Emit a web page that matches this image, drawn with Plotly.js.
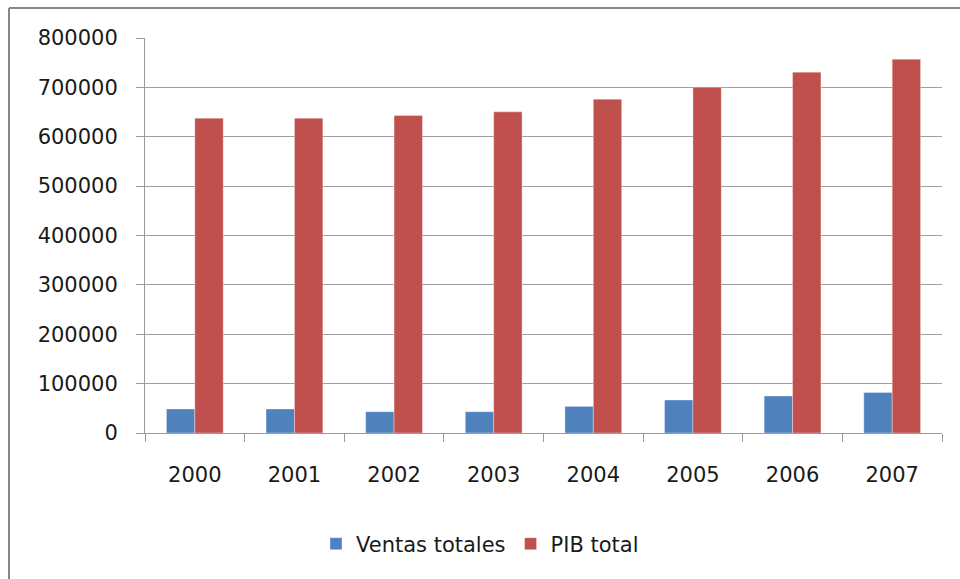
<!DOCTYPE html>
<html>
<head>
<meta charset="utf-8">
<script src="https://cdn.plot.ly/plotly-3.0.1.min.js"></script>
<style>html,body{margin:0;padding:0;background:#fff;}#chart{width:960px;height:579px;}</style>
</head>
<body>
<div id="chart"></div>
<script>
const years = ["2000","2001","2002","2003","2004","2005","2006","2007"];
const ventasTotales = [48600, 48600, 43100, 43100, 53900, 66800, 74900, 82200];
const pibTotal = [637700, 637700, 642900, 650400, 676100, 700400, 730800, 757100];
const yTicks = [0,100000,200000,300000,400000,500000,600000,700000,800000];

const W = 960, H = 579;
const L = 145, R = 942, T = 38, B = 433;
const px = x => (x - L) / (R - L);
const py = y => (B - y) / (B - T);

const font = "DejaVu Sans, sans-serif";
const fs = 21;
const traces = [
  {type:"bar", name:"Ventas totales", x:years, y:ventasTotales,
   marker:{color:"#4F81BD", line:{color:"rgba(255,255,255,0.35)", width:1}}},
  {type:"bar", name:"PIB total", x:years, y:pibTotal,
   marker:{color:"#C0504D", line:{color:"rgba(255,255,255,0.35)", width:1}}}
];
const layout = {
  width:W, height:H,
  margin:{l:L, r:W-R, t:T, b:H-B},
  paper_bgcolor:"#fff", plot_bgcolor:"#fff",
  barmode:"group", bargap:0.43, bargroupgap:0,
  font:{family:font, size:fs, color:"#1a1a1a"},
  showlegend:true,
  legend:{orientation:"h", x:0.5, xanchor:"center", xref:"container", y:(H-544)/H, yref:"container", yanchor:"middle",
          font:{family:font, size:fs, color:"#1a1a1a"}, itemclick:false},
  xaxis:{type:"category", showgrid:false, showline:true, linecolor:"#9A9A9A", linewidth:1,
         ticks:"outside", tickson:"boundaries", ticklen:8, tickcolor:"#9A9A9A",
         ticklabelstandoff:23, tickfont:{family:font, size:fs, color:"#1a1a1a"}},
  yaxis:{range:[0,800000], tickvals:yTicks, ticktext:yTicks.map(String),
         showgrid:true, gridcolor:"#A0A0A0", gridwidth:1.2, zeroline:false,
         showline:true, linecolor:"#9A9A9A", linewidth:1,
         ticks:"outside", ticklen:8, tickcolor:"#9A9A9A",
         ticklabelstandoff:14, tickfont:{family:font, size:fs, color:"#1a1a1a"}},
  shapes:[
    {type:"line", xref:"paper", yref:"paper", x0:px(9), x1:px(960), y0:py(8), y1:py(8), line:{color:"#868686", width:2}},
    {type:"line", xref:"paper", yref:"paper", x0:px(9), x1:px(9), y0:py(8), y1:py(580), line:{color:"#868686", width:2}}
  ]
};
Plotly.newPlot("chart", traces, layout, {staticPlot:true, displayModeBar:false});
</script>
</body>
</html>
